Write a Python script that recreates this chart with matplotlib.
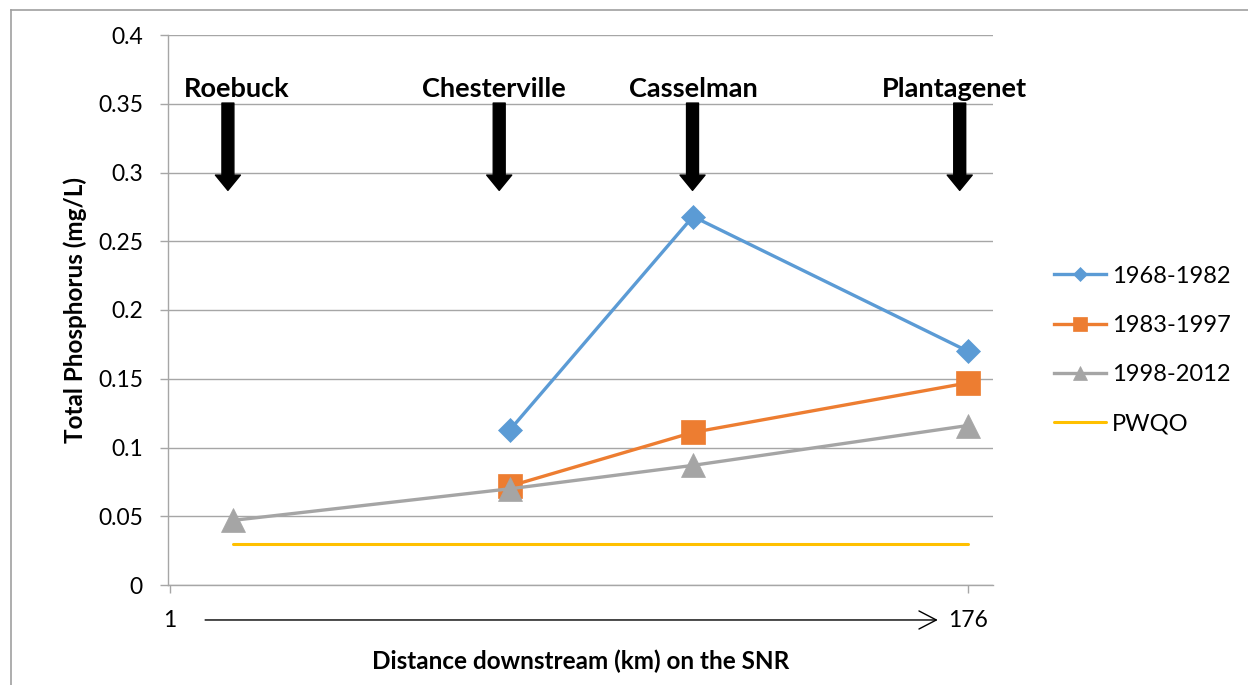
import matplotlib
matplotlib.use("Agg")
import matplotlib.pyplot as plt
from matplotlib.lines import Line2D

plt.rcParams['font.family'] = ['Lato', 'DejaVu Sans']

# distance downstream (km) of each station
stations = ['Roebuck', 'Chesterville', 'Casselman', 'Plantagenet']
station_km = [14.8, 75.6, 115.7, 176]

# total phosphorus (mg/L) by period, None = no data
tp_1968 = [None, 0.113, 0.268, 0.170]
tp_1983 = [None, 0.072, 0.111, 0.147]
tp_1998 = [0.047, 0.070, 0.087, 0.116]
pwqo = 0.03

yticks = [0, 0.05, 0.1, 0.15, 0.2, 0.25, 0.3, 0.35, 0.4]
ytick_labels = ['0', '0.05', '0.1', '0.15', '0.2', '0.25', '0.3', '0.35', '0.4']

blue = '#5B9BD5'
orange = '#ED7D31'
gray = '#A5A5A5'
yellow = '#FFC000'
gridc = '#A6A6A6'

fig = plt.figure(figsize=(12.48, 6.85), dpi=100)
ax = fig.add_axes([168/1248, 1-585/685, (993-168)/1248, 550/685])

def pts(vals):
    xs = [x for x, v in zip(station_km, vals) if v is not None]
    ys = [v for v in vals if v is not None]
    return xs, ys

x1, y1 = pts(tp_1968)
x2, y2 = pts(tp_1983)
x3, y3 = pts(tp_1998)

ax.plot(x1, y1, color=blue, lw=2.4, marker='D', ms=12.5, mec=blue, mew=0.5, label='1968-1982', zorder=4)
ax.plot(x2, y2, color=orange, lw=2.4, marker='s', ms=17.5, mec=orange, mew=0.5, label='1983-1997', zorder=5)
ax.plot(x3, y3, color=gray, lw=2.4, marker='^', ms=17.5, mec=gray, mew=0.5, label='1998-2012', zorder=6)
ax.plot([station_km[0], station_km[-1]], [pwqo, pwqo], color=yellow, lw=2.2,
        solid_capstyle='round', label='PWQO', zorder=3)

ax.set_ylim(0, 0.4)
ax.set_xlim(0.56, 181.5)
ax.set_yticks(yticks)
ax.set_yticklabels(ytick_labels)
ax.set_xticks([1, 176])
ax.set_xticklabels(['1', '176'])
ax.grid(axis='y', color=gridc, lw=1.0)
ax.set_axisbelow(True)
for s in ['top', 'right']:
    ax.spines[s].set_visible(False)
for s in ['left', 'bottom']:
    ax.spines[s].set_color(gridc)
    ax.spines[s].set_linewidth(1.0)
ax.tick_params(axis='y', length=6, width=1.0, color=gridc, pad=12, labelsize=16.5)
ax.tick_params(axis='x', length=6, width=1.0, color=gridc, pad=12, labelsize=16.5)

ax.set_ylabel('Total Phosphorus (mg/L)', fontsize=17.5, fontweight='bold', labelpad=8)
ax.set_xlabel('Distance downstream (km) on the SNR', fontsize=17.5, fontweight='bold', labelpad=13)

# station markers
arrow_x = [13.7, 73.2, 115.6, 174.2]
label_x = [15.6, 72.1, 115.8, 173.0]
for name, ax_x, lx in zip(stations, arrow_x, label_x):
    ax.annotate('', xy=(ax_x, 0.287), xytext=(ax_x, 0.3505),
                arrowprops=dict(arrowstyle='simple,head_width=1.8,head_length=1.1,tail_width=0.86',
                                mutation_scale=10, color='black', shrinkA=0, shrinkB=0), zorder=7)
    ax.text(lx, 0.361, name, ha='center', va='center', fontsize=19.5, fontweight='bold', zorder=8)

# distance arrow under axis
ax.annotate('', xy=(169.4, -0.0636), xytext=(8.7, -0.0636), xycoords=ax.get_xaxis_transform(),
            arrowprops=dict(arrowstyle='->,head_length=1.25,head_width=0.65', mutation_scale=10,
                            color='black', lw=1.0, shrinkA=0, shrinkB=0),
            annotation_clip=False)

leg = fig.legend(loc='center left', bbox_to_anchor=(1054/1248, 1-350/685), frameon=False,
                 fontsize=17, handlelength=2.2, handletextpad=0.25, labelspacing=1.2,
                 markerscale=0.6, borderpad=0, borderaxespad=0)

# outer frame (top and left edges)
fig.add_artist(Line2D([11/1248, 1], [1-10/685, 1-10/685], color='#A0A0A0', lw=1.2))
fig.add_artist(Line2D([11/1248, 11/1248], [0, 1-10/685], color='#A0A0A0', lw=1.2))

fig.savefig('out.png', dpi=100)
